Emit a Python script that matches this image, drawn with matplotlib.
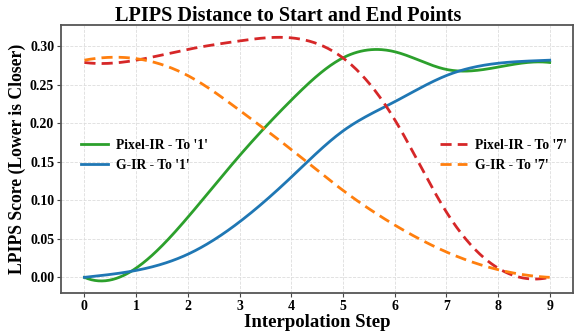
import numpy as np
import matplotlib.pyplot as plt

# LPIPS scores at each interpolation step
steps = np.arange(10)
pixel_to_1 = [0.000, 0.012, 0.078, 0.158, 0.230, 0.285, 0.293, 0.270, 0.273, 0.279]
gir_to_1 = [0.000, 0.009, 0.030, 0.072, 0.130, 0.190, 0.228, 0.262, 0.278, 0.282]
pixel_to_7 = [0.279, 0.282, 0.296, 0.307, 0.311, 0.285, 0.205, 0.085, 0.012, 0.000]
gir_to_7 = [0.282, 0.284, 0.262, 0.217, 0.166, 0.113, 0.068, 0.033, 0.010, 0.000]


def spline(x, y, xs):
    # cubic spline with not-a-knot ends (uniform steps)
    x = np.asarray(x, float)
    y = np.asarray(y, float)
    n = len(x)
    h = x[1] - x[0]
    A = np.zeros((n, n))
    b = np.zeros(n)
    A[0, :3] = [1, -2, 1]
    A[-1, -3:] = [1, -2, 1]
    for i in range(1, n - 1):
        A[i, i - 1:i + 2] = [1, 4, 1]
        b[i] = 6 * (y[i + 1] - 2 * y[i] + y[i - 1]) / h ** 2
    M = np.linalg.solve(A, b)
    idx = np.clip(((xs - x[0]) // h).astype(int), 0, n - 2)
    t0 = xs - x[idx]
    t1 = x[idx + 1] - xs
    return (M[idx] * t1 ** 3 + M[idx + 1] * t0 ** 3) / (6 * h) \
        + (y[idx] / h - M[idx] * h / 6) * t1 + (y[idx + 1] / h - M[idx + 1] * h / 6) * t0


plt.rcParams['font.family'] = ['Liberation Serif', 'DejaVu Serif']
plt.rcParams['font.weight'] = 'bold'

fig = plt.figure(figsize=(5.77, 3.35), dpi=100)
ax = fig.add_axes([0.106, 0.125, 0.887, 0.8])

xs = np.linspace(0, 9, 400)
l1, = ax.plot(xs, spline(steps, pixel_to_1, xs), color='#2ca02c', lw=2, label="Pixel-IR - To '1'")
l2, = ax.plot(xs, spline(steps, gir_to_1, xs), color='#1f77b4', lw=2, label="G-IR - To '1'")
l3, = ax.plot(xs, spline(steps, pixel_to_7, xs), color='#d62728', lw=2, ls=(0, (4, 2.2)), label="Pixel-IR - To '7'")
l4, = ax.plot(xs, spline(steps, gir_to_7, xs), color='#ff7f0e', lw=2, ls=(0, (4, 2.2)), label="G-IR - To '7'")

fig.text(0.5, 0.937, 'LPIPS Distance to Start and End Points', fontsize=14.6,
         fontweight='bold', ha='center', va='baseline')
ax.set_xlabel('Interpolation Step', fontsize=13.5, fontweight='bold', labelpad=1)
ax.set_ylabel('LPIPS Score (Lower is Closer)', fontsize=12.7, fontweight='bold', labelpad=3)
ax.set_xticks(steps)
ax.set_yticks([0, 0.05, 0.10, 0.15, 0.20, 0.25, 0.30])
ax.yaxis.set_major_formatter(plt.FormatStrFormatter('%.2f'))
ax.tick_params(labelsize=10, length=3, color='#444444', pad=2)
ax.grid(True, ls='--', lw=0.6, color='#dddddd')
ax.set_axisbelow(True)
for s in ax.spines.values():
    s.set_color('#555555')
    s.set_linewidth(1.3)

leg1 = ax.legend(handles=[l1, l2], loc='center left', bbox_to_anchor=(0.015, 0.515),
                 frameon=False, fontsize=9.8, handlelength=2.0, handletextpad=0.6)
ax.add_artist(leg1)
ax.legend(handles=[l3, l4], loc='center right', bbox_to_anchor=(1.012, 0.515),
          frameon=False, fontsize=9.8, handlelength=2.0, handletextpad=0.6)

plt.savefig('out.png', dpi=100)
plt.close()
